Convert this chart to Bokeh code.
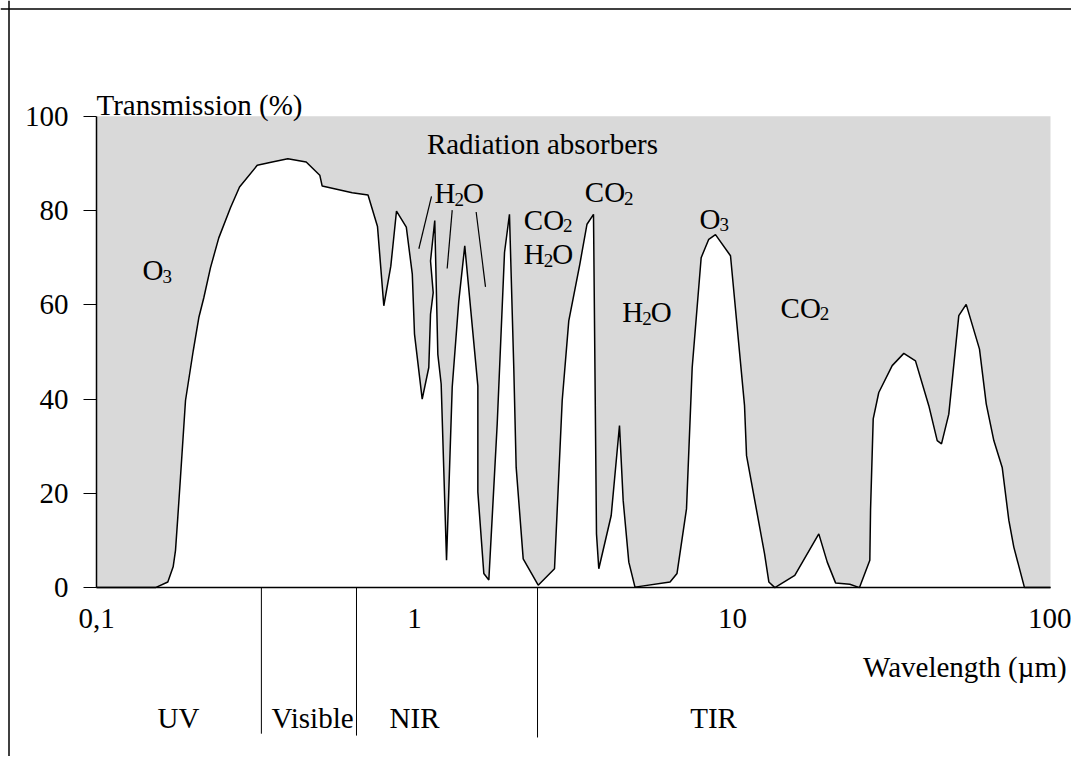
from bokeh.plotting import figure
from bokeh.models import Range1d, FixedTicker, Span, ColumnDataSource, CustomJSTickFormatter
from bokeh.core.properties import value
from bokeh.embed import file_html
from bokeh.resources import INLINE

# ---------------- data ----------------
wavelength_um = [0.1, 0.1533, 0.1676, 0.1742, 0.1772, 0.1802, 0.1837, 0.1905, 0.2014, 0.2098,
                 0.2175, 0.2283, 0.2424, 0.2638, 0.2817, 0.3202, 0.3569, 0.3996, 0.4565, 0.5037,
                 0.5125, 0.6370, 0.7142, 0.7650, 0.8007, 0.8423, 0.8778, 0.9424, 0.9842, 1.0,
                 1.0573, 1.109, 1.123, 1.145, 1.123, 1.158, 1.184, 1.213, 1.261, 1.314,
                 1.378, 1.439, 1.582, 1.582, 1.652, 1.713, 1.820, 1.919, 1.989, 2.052,
                 2.088, 2.197, 2.449, 2.756, 2.914, 3.056, 3.310, 3.487, 3.655, 3.735,
                 3.798, 4.155, 4.412, 4.531, 4.720, 4.936, 6.362, 6.692, 7.167, 7.469,
                 7.970, 8.421, 8.840, 9.856, 10.91, 11.07, 12.61, 13.01, 13.59, 15.70,
                 18.68, 19.86, 21.09, 23.38, 25.08, 27.03, 27.17, 27.70, 28.84, 31.78,
                 34.57, 37.62, 41.43, 44.03, 45.42, 47.88, 51.48, 54.31, 59.80, 62.79,
                 66.34, 70.49, 73.95, 76.67, 82.83, 100.0]
transmission_pct = [0, 0, 1.2, 4.4, 7.9, 15.0, 23.4, 39.7, 50.2, 57.3,
                    61.5, 67.9, 74.2, 80.6, 85.0, 89.6, 90.3, 91.0, 90.3, 87.5,
                    85.2, 83.8, 83.3, 76.6, 59.8, 68.2, 79.9, 76.5, 66.5, 53.8,
                    40.0, 46.7, 58.0, 62.6, 69.3, 77.9, 49.5, 43.2, 5.8, 42.5,
                    60.8, 72.5, 42.8, 20.3, 3.0, 1.6, 34.7, 71.1, 79.2, 46.7,
                    25.5, 6.1, 0.5, 4.0, 39.7, 56.6, 68.6, 77.1, 79.2, 11.4,
                    4.0, 15.3, 34.4, 18.5, 5.4, 0.1, 1.2, 3.0, 16.7, 46.7,
                    70.0, 73.9, 74.9, 70.4, 38.6, 28.0, 7.2, 1.2, 0, 2.6,
                    11.4, 5.4, 1.0, 0.7, 0, 5.8, 16.4, 35.8, 41.4, 47.1,
                    49.7, 48.1, 38.6, 31.2, 30.5, 36.8, 57.7, 60.1, 50.6, 39.0,
                    31.2, 25.5, 14.3, 8.6, 0, 0]

x_ticks = [0.1, 1, 10, 100]
x_tick_labels = ["0,1", "1", "10", "100"]
y_ticks = [0, 20, 40, 60, 80, 100]

band_edges_um = [0.33, 0.657, 2.437]
band_edge_bottom = [-31.0, -31.4, -31.8]
band_names = ["UV", "Visible", "NIR", "TIR"]
band_label_x = [0.181, 0.478, 1.0, 8.72]
band_label_y = [-27.6, -27.6, -27.6, -27.6]

absorber_formula = ["O3", "H2O", "CO2", "H2O", "CO2", "H2O", "O3", "CO2"]
absorber_x = [0.1395, 1.156, 2.207, 2.207, 3.432, 4.499, 7.875, 14.16]
absorber_y = [67.3, 83.7, 78.1, 70.7, 83.9, 58.4, 78.3, 59.4]

pointer_x0 = [1.032, 1.267, 1.563]
pointer_y0 = [71.9, 67.7, 79.7]
pointer_x1 = [1.131, 1.314, 1.672]
pointer_y1 = [83.0, 80.1, 63.8]

title_text = "Radiation absorbers"
title_x, title_y = 2.526, 94.2
y_label_text = "Transmission (%)"
y_label_x, y_label_y = 0.1, 102.4
x_label_text = "Wavelength (\u00b5m)"
x_label_x, x_label_y = 53.8, -16.9

# ---------------- layout ----------------
W, H = 1071, 756
PX_DEC = 318.0          # pixels per decade
PX_PCT = 4.713          # pixels per percent
LEFT_PX = 96            # from figure left edge to x = 0.1
TOP_PX = 115.8          # from figure top edge to y = 100
BORDER_PX = 8.5         # outer frame line position
x_start = 10 ** (-1 - LEFT_PX / PX_DEC)
x_end = 10 ** (-1 + (W - LEFT_PX) / PX_DEC)
y_end = 100 + TOP_PX / PX_PCT
y_start = y_end - H / PX_PCT
border_x = 10 ** (-1 - (LEFT_PX - BORDER_PX) / PX_DEC)
border_y = 100 + (TOP_PX - BORDER_PX) / PX_PCT

FONT = value("Liberation Serif")
FS = 29
GRAY = "#d9d9d9"

p = figure(width=W, height=H, x_axis_type="log",
           x_range=Range1d(x_start, x_end), y_range=Range1d(y_start, y_end),
           output_backend="svg", toolbar_location=None, min_border=0)
p.outline_line_color = None
p.xgrid.visible = False
p.ygrid.visible = False
p.background_fill_color = "white"
p.border_fill_color = "white"

# axes
xa = p.xaxis[0]
xa.fixed_location = 0
xa.bounds = (x_ticks[0], x_ticks[-1])
xa.ticker = FixedTicker(ticks=x_ticks, minor_ticks=[])
xa.formatter = CustomJSTickFormatter(args=dict(vals=x_ticks, labs=x_tick_labels), code="""
    let best = 0;
    for (let i = 0; i < vals.length; i++) {
        if (Math.abs(Math.log10(vals[i]) - Math.log10(tick)) < Math.abs(Math.log10(vals[best]) - Math.log10(tick))) best = i;
    }
    return labs[best];
""")
xa.major_tick_out = 0
xa.major_tick_in = 0
xa.minor_tick_line_color = None
xa.major_label_standoff = 21
xa.major_label_text_font = "Liberation Serif"
xa.major_label_text_font_size = f"{FS}px"
xa.major_label_text_color = "black"
xa.axis_line_color = "black"
xa.axis_line_width = 1.5

ya = p.yaxis[0]
ya.fixed_location = x_ticks[0]
ya.bounds = (y_ticks[0], y_ticks[-1])
ya.ticker = FixedTicker(ticks=y_ticks, minor_ticks=[])
ya.major_tick_out = 13
ya.major_tick_in = 0
ya.major_tick_line_color = "black"
ya.minor_tick_line_color = None
ya.major_label_standoff = 15
ya.major_label_text_font = "Liberation Serif"
ya.major_label_text_font_size = f"{FS}px"
ya.major_label_text_color = "black"
ya.axis_line_color = "black"
ya.axis_line_width = 1.5

# absorption background and transmission window
p.quad(left=[x_ticks[0]], right=[x_ticks[-1]], bottom=[y_ticks[0]], top=[y_ticks[-1]],
       fill_color=GRAY, line_color=None)
p.patch(wavelength_um, transmission_pct, fill_color="white", line_color=None)
p.line(wavelength_um, transmission_pct, line_color="black", line_width=1.5)

# band boundaries
p.segment(x0=band_edges_um, y0=[0] * len(band_edges_um), x1=band_edges_um, y1=band_edge_bottom,
          line_color="black", line_width=1)
p.text(x=band_label_x, y=band_label_y, text=band_names, text_font=FONT,
       text_font_size=f"{FS}px", text_align="center", text_baseline="alphabetic", text_color="black")

# pointer lines
p.segment(x0=pointer_x0, y0=pointer_y0, x1=pointer_x1, y1=pointer_y1, line_color="black", line_width=1.2)

# absorber labels with subscripts
CHAR_W = {"H": 0.722, "O": 0.722, "C": 0.667}
main = dict(x=[], y=[], t=[], dx=[])
sub = dict(x=[], y=[], t=[], dx=[])
for f, xx, yy in zip(absorber_formula, absorber_x, absorber_y):
    cur = 0.0
    for ch in f:
        if ch.isdigit():
            sub["x"].append(xx); sub["y"].append(yy); sub["t"].append(ch); sub["dx"].append(cur - 1)
            cur += 7.5
        else:
            main["x"].append(xx); main["y"].append(yy); main["t"].append(ch); main["dx"].append(cur)
            cur += CHAR_W[ch] * FS
p.text(x="x", y="y", text="t", x_offset="dx", source=ColumnDataSource(main), text_font=FONT,
       text_font_size=f"{FS}px", text_align="left", text_baseline="alphabetic", text_color="black")
p.text(x="x", y="y", text="t", x_offset="dx", y_offset=6, source=ColumnDataSource(sub), text_font=FONT,
       text_font_size="19px", text_align="left", text_baseline="alphabetic", text_color="black")

# titles
p.text(x=[title_x], y=[title_y], text=[title_text], text_font=FONT, text_font_size=f"{FS}px",
       text_align="center", text_baseline="alphabetic", text_color="black")
p.text(x=[y_label_x], y=[y_label_y], text=[y_label_text], text_font=FONT, text_font_size=f"{FS}px",
       text_align="left", text_baseline="alphabetic", text_color="black")
p.text(x=[x_label_x], y=[x_label_y], text=[x_label_text], text_font=FONT, text_font_size=f"{FS}px",
       text_align="center", text_baseline="alphabetic", text_color="black")

# outer frame (left and top edges)
p.add_layout(Span(location=border_x, dimension="height", line_color="black", line_width=1.5))
p.add_layout(Span(location=border_y, dimension="width", line_color="black", line_width=1.5))

open("out.html", "w").write(file_html(p, INLINE))
